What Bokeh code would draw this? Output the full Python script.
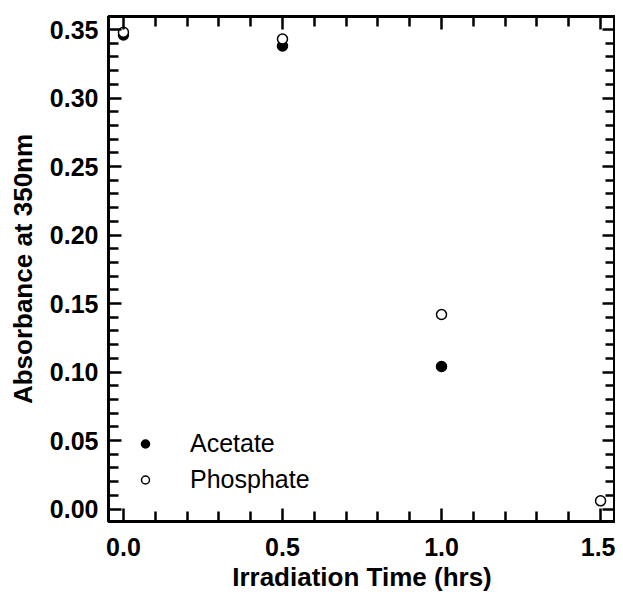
from bokeh.plotting import figure
from bokeh.models import (Range1d, FixedTicker, NumeralTickFormatter, LinearAxis,
                          ColumnDataSource, Legend, LegendItem, CustomJSTickFormatter)
from bokeh.embed import file_html
from bokeh.resources import INLINE

# ---- data ----
acetate_time = [0.0, 0.5, 1.0]
acetate_abs = [0.346, 0.338, 0.104]
phosphate_time = [0.0, 0.5, 1.0, 1.5]
phosphate_abs = [0.348, 0.343, 0.142, 0.006]

x_major = [0.0, 0.5, 1.0, 1.5]
x_minor = [0.1, 0.2, 0.3, 0.4, 0.6, 0.7, 0.8, 0.9, 1.1, 1.2, 1.3, 1.4]
y_major = [0.00, 0.05, 0.10, 0.15, 0.20, 0.25, 0.30, 0.35]
y_minor = [round(0.01 * i, 2) for i in range(1, 35) if i % 5 != 0]

FONT = "Liberation Sans"

p = figure(frame_width=507, frame_height=505,
           min_border_left=108, min_border_right=0, min_border_top=16, min_border_bottom=68,
           x_range=Range1d(-0.047, 1.547), y_range=Range1d(-0.0091, 0.3595),
           output_backend="svg", toolbar_location=None, tools="")
p.xgrid.visible = False
p.ygrid.visible = False
p.outline_line_color = "black"
p.outline_line_width = 3
p.background_fill_color = "white"
p.border_fill_color = "white"

def style_axis(ax, ticks, minor, fmt, show_labels):
    ax.ticker = FixedTicker(ticks=ticks, minor_ticks=minor)
    ax.axis_line_width = 3
    ax.axis_line_color = "black"
    ax.major_tick_in = 13
    ax.major_tick_out = 0
    ax.minor_tick_in = 10
    ax.minor_tick_out = 0
    ax.major_tick_line_width = 2.5
    ax.minor_tick_line_width = 2.5
    ax.major_tick_line_color = "black"
    ax.minor_tick_line_color = "black"
    if show_labels:
        ax.formatter = NumeralTickFormatter(format=fmt)
        ax.major_label_text_font = FONT
        ax.major_label_text_font_style = "bold"
        ax.major_label_text_font_size = "25px"
        ax.major_label_text_color = "black"
        ax.axis_label_text_font = FONT
        ax.axis_label_text_font_style = "bold"
        ax.axis_label_text_font_size = "26px"
        ax.axis_label_text_color = "black"
    else:
        ax.major_label_text_font_size = "0px"
        ax.major_label_standoff = 0
        ax.formatter = CustomJSTickFormatter(code="return ''")

xa = p.xaxis[0]
style_axis(xa, x_major, x_minor, "0.0", True)
xa.axis_label = "Irradiation Time (hrs)"
xa.major_label_standoff = 16
xa.axis_label_standoff = 3

ya = p.yaxis[0]
style_axis(ya, y_major, y_minor, "0.00", True)
ya.axis_label = "Absorbance at 350nm"
ya.major_label_standoff = 10
ya.axis_label_standoff = 9

top = LinearAxis()
style_axis(top, x_major, x_minor, "0.0", False)
p.add_layout(top, "above")
right = LinearAxis()
style_axis(right, y_major, y_minor, "0.00", False)
p.add_layout(right, "right")

src_a = ColumnDataSource(dict(x=acetate_time, y=acetate_abs))
src_p = ColumnDataSource(dict(x=phosphate_time, y=phosphate_abs))
r_a = p.scatter("x", "y", source=src_a, size=10, marker="circle",
                fill_color="black", line_color="black", line_width=1.5)
r_p = p.scatter("x", "y", source=src_p, size=10, marker="circle",
                fill_color="white", line_color="black", line_width=1.5)

legend = Legend(items=[LegendItem(label="Acetate", renderers=[r_a]),
                       LegendItem(label="Phosphate", renderers=[r_p])],
                location=(27, 27), orientation="vertical")
legend.label_text_font = FONT
legend.label_text_font_size = "25px"
legend.label_text_color = "black"
legend.label_standoff = 35
legend.glyph_width = 20
legend.glyph_height = 25
legend.label_height = 25
legend.spacing = 7
legend.padding = 0
legend.margin = 0
legend.border_line_color = None
legend.background_fill_alpha = 0
p.add_layout(legend, "center")

open("out.html", "w").write(file_html(p, INLINE))
